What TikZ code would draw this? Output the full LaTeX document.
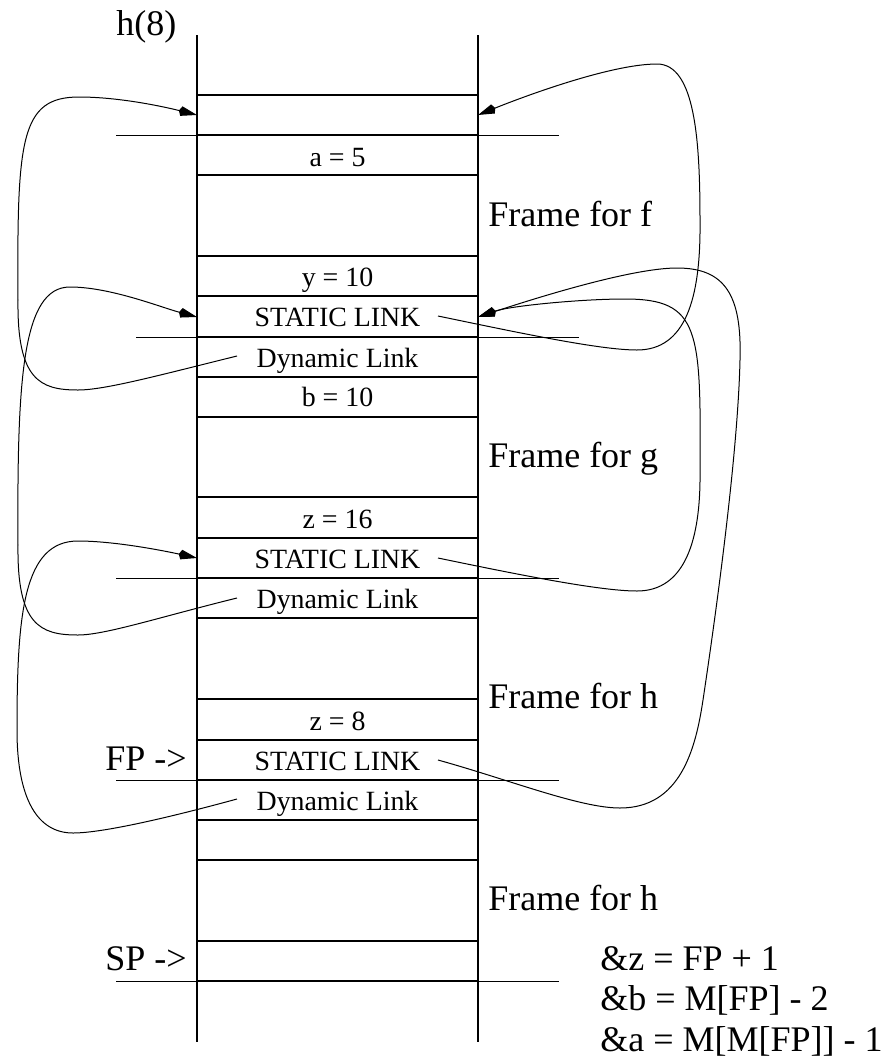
\documentclass[tikz,border=0pt]{standalone}
\usepackage{fontspec}
\setmainfont{Liberation Serif}
\usetikzlibrary{arrows.meta}
\begin{document}
\begin{tikzpicture}[x=0.75pt,y=-0.75pt,
  grid/.style={line width=0.95pt},
  ext/.style={line width=0.7pt},
  link/.style={line width=0.75pt,-{Stealth[length=12pt,width=7pt,inset=-2pt]}},
  small/.style={font=\fontsize{20.9}{24}\selectfont, inner sep=0pt, anchor=base},
  big/.style={font=\fontsize{27}{32}\selectfont, inner sep=0pt, anchor=base west}]
\useasboundingbox (0,0) rectangle (894,1061);
% stack walls
\draw[grid] (197,35) -- (197,1042);
\draw[grid] (478,35) -- (478,1042);
% extended separators
\foreach \y in {135,578,780,981} \draw[ext] (116,\y) -- (559,\y);
\draw[ext] (136,337) -- (579,337);
% cell lines
\foreach \y in {95,135,175,256,296,337,377,417,497,538,578,618,699,740,780,820,860,941,981}
  \draw[grid] (197,\y) -- (478,\y);
% cell texts
\node[small] (a5)  at (337.5,166.7) {a = 5};
\node[small] (y10) at (337.5,286.7) {y = 10};
\node[small] (sl1) at (337.5,326.7) {STATIC LINK};
\node[small] (dl1) at (337.5,367)   {Dynamic Link};
\node[small] (b10) at (337.5,406.7) {b = 10};
\node[small] (z16) at (337.5,528.3) {z = 16};
\node[small] (sl2) at (337.5,568.3) {STATIC LINK};
\node[small] (dl2) at (337.5,608.3) {Dynamic Link};
\node[small] (z8)  at (337.5,730)   {z = 8};
\node[small] (sl3) at (337.5,770)   {STATIC LINK};
\node[small] (dl3) at (337.5,810)   {Dynamic Link};
% big labels
\node[big] (h8)  at (116,35)    {h(8)};
\node[big] (ff)  at (488,226.7) {Frame for f};
\node[big] (fg)  at (488,467.3) {Frame for g};
\node[big] (fh1) at (488,708.3) {Frame for h};
\node[big] (fh2) at (488,910)   {Frame for h};
\node[big] (fp)  at (105,770)   {FP ->};
\node[big] (sp)  at (105,970.7) {SP ->};
\node[big] (e1)  at (600,970)   {\&z = FP + 1};
\node[big] (e2)  at (600,1010)  {\&b = M[FP] - 2};
\node[big] (e3)  at (600,1051.7){\&a = M[M[FP]] - 1};
% link end points
\coordinate (dA) at (237,356);
\coordinate (tA) at (197,115);
\coordinate (dB) at (237,598);
\coordinate (tB) at (197,317);
\coordinate (dC) at (237,799);
\coordinate (tC) at (197,558);
\coordinate (sD) at (438,316);
\coordinate (tD) at (478,115);
\coordinate (sE) at (438,558);
\coordinate (tE) at (478,317);
\coordinate (sF) at (438,760);
% dynamic links (left)
\draw[link] (dA) .. controls (160,375) and (105,390) .. (78,390)
  .. controls (40,390) and (17,380) .. (18,300)
  .. controls (17,140) and (20,97) .. (79,97)
  .. controls (120,97) and (165,107) .. (tA);
\draw[link] (dB) .. controls (160,617) and (105,635) .. (78,635)
  .. controls (40,635) and (17,625) .. (18,545)
  .. controls (17,380) and (22,287) .. (70,287)
  .. controls (110,287) and (160,307) .. (tB);
\draw[link] (dC) .. controls (160,820) and (100,833) .. (73,833)
  .. controls (38,833) and (17,800) .. (17,730)
  .. controls (17,615) and (23,541) .. (78,541)
  .. controls (115,541) and (165,551) .. (tC);
% static links (right)
\draw[link] (sD) .. controls (520,333) and (600,350) .. (637,350)
  .. controls (685,350) and (701,300) .. (700,220)
  .. controls (700,140) and (695,64) .. (657,64)
  .. controls (610,64) and (520,98) .. (tD);
\draw[link] (sE) .. controls (520,575) and (600,591) .. (637,591)
  .. controls (685,591) and (701,540) .. (700,470)
  .. controls (701,330) and (700,299) .. (625,299)
  .. controls (580,299) and (510,306) .. (tE);
\draw[link] (sF) .. controls (510,780) and (580,808) .. (620,808)
  .. controls (680,808) and (695.5,750) .. (703,700)
  .. controls (718,600) and (738,450) .. (740,360)
  .. controls (742,295) and (725,268) .. (677,268)
  .. controls (630,268) and (530,300) .. (tE);
\end{tikzpicture}
\end{document}
